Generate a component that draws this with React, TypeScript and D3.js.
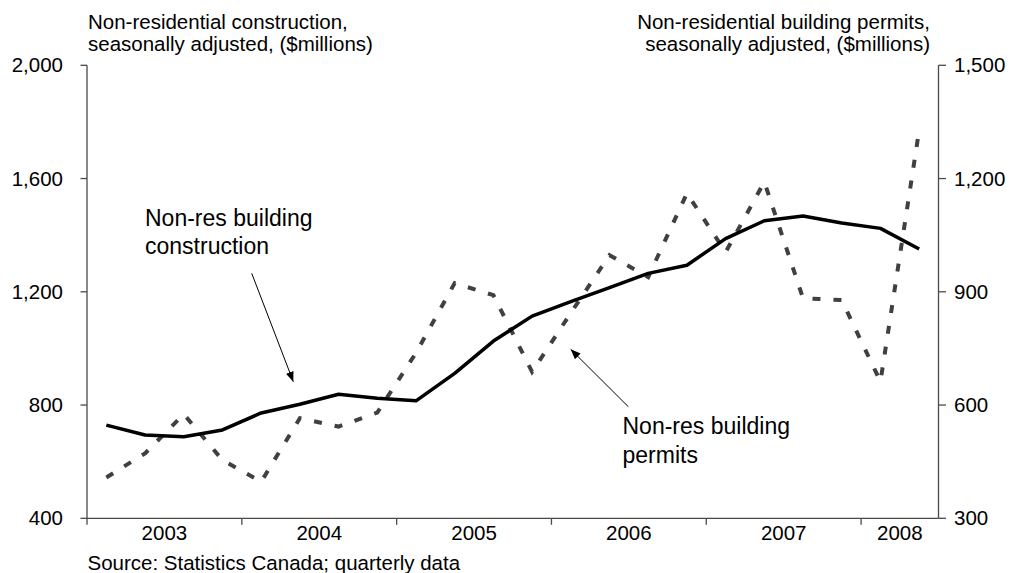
import React from "react";
import * as d3 from "d3";

const quarters = [
  "2003Q1","2003Q2","2003Q3","2003Q4",
  "2004Q1","2004Q2","2004Q3","2004Q4",
  "2005Q1","2005Q2","2005Q3","2005Q4",
  "2006Q1","2006Q2","2006Q3","2006Q4",
  "2007Q1","2007Q2","2007Q3","2007Q4",
  "2008Q1","2008Q2",
];
const years = ["2003", "2004", "2005", "2006", "2007", "2008"];

// Non-residential building construction (left axis, $ millions)
const construction = [
  729, 694, 688, 712,
  772, 803, 838, 824,
  815, 912, 1026, 1114,
  1165, 1215, 1265, 1294,
  1388, 1451, 1468, 1443,
  1424, 1351,
];
// Non-residential building permits (right axis, $ millions)
const permits = [
  408, 472, 576, 454,
  397, 565, 543, 580,
  738, 923, 891, 688,
  844, 997, 939, 1161,
  1005, 1191, 883, 878,
  662, 1328,
];
const leftTicks = [400, 800, 1200, 1600, 2000];
const rightTicks = [300, 600, 900, 1200, 1500];

const FONT = "'Liberation Sans', Arial, Helvetica, sans-serif";
const AXIS = "#4a4a4a";
const FS = 20.5;

export default function App() {
  const x = d3.scaleBand<string>().domain(quarters).range([87, 938.5]).padding(0);
  const yL = d3.scaleLinear().domain([400, 2000]).range([518.3, 65.3]);
  const yR = d3.scaleLinear().domain([300, 1500]).range([518.3, 65.3]);
  const cx = (q: string) => (x(q) as number) + x.bandwidth() / 2;

  const lineL = d3.line<number>().x((_, i) => cx(quarters[i])).y((d) => yL(d));
  const lineR = d3.line<number>().x((_, i) => cx(quarters[i])).y((d) => yR(d));

  const yearStarts = years.map((yr) => quarters.findIndex((q) => q.startsWith(yr)));
  const yearEnds = years.map((yr) => {
    let last = -1;
    quarters.forEach((q, i) => { if (q.startsWith(yr)) last = i; });
    return last;
  });
  const bottom = yL(400);
  const [x0, x1] = x.range();

  return (
    <svg width={1017} height={573} style={{ position: "absolute", left: 0, top: 0, background: "#fff" }} fontFamily={FONT}>
      <defs>
        <marker id="arr" viewBox="0 0 10 10" refX="10" refY="5" markerWidth="10" markerHeight="10" markerUnits="userSpaceOnUse" orient="auto">
          <path d="M0,1 L10,5 L0,9 Z" fill="#000" />
        </marker>
      </defs>

      {/* titles */}
      <text x={88} y={29} fontSize={FS} fill="#000">Non-residential construction,</text>
      <text x={88} y={51} fontSize={FS} fill="#000">seasonally adjusted, ($millions)</text>
      <text x={930} y={29} fontSize={FS} fill="#000" textAnchor="end">Non-residential building permits,</text>
      <text x={930} y={51} fontSize={FS} fill="#000" textAnchor="end">seasonally adjusted, ($millions)</text>

      {/* axes */}
      <line x1={x0} x2={x0} y1={yL(2000)} y2={bottom} stroke={AXIS} strokeWidth={1.3} />
      <line x1={x1} x2={x1} y1={yR(1500)} y2={bottom} stroke={AXIS} strokeWidth={1.3} />
      <line x1={x0} x2={x1} y1={bottom} y2={bottom} stroke={AXIS} strokeWidth={1.3} />

      {leftTicks.map((t) => (
        <g key={"l" + t}>
          <line x1={x0 - 6.5} x2={x0} y1={yL(t)} y2={yL(t)} stroke={AXIS} strokeWidth={1.3} />
          <text x={63} y={yL(t)} dy="0.35em" fontSize={FS} textAnchor="end" fill="#000">
            {d3.format(",")(t)}
          </text>
        </g>
      ))}
      {rightTicks.map((t) => (
        <g key={"r" + t}>
          <line x1={x1} x2={x1 + 7.5} y1={yR(t)} y2={yR(t)} stroke={AXIS} strokeWidth={1.3} />
          <text x={954} y={yR(t)} dy="0.35em" fontSize={FS} textAnchor="start" fill="#000">
            {d3.format(",")(t)}
          </text>
        </g>
      ))}

      {yearStarts.map((si, k) => {
        const sx = x(quarters[si]) as number;
        const ex = (x(quarters[yearEnds[k]]) as number) + x.bandwidth();
        return (
          <g key={years[k]}>
            <line x1={sx} x2={sx} y1={bottom} y2={bottom + 6.5} stroke={AXIS} strokeWidth={1.3} />
            <text x={(sx + ex) / 2} y={540} fontSize={FS} textAnchor="middle" fill="#000">{years[k]}</text>
          </g>
        );
      })}

      {/* series */}
      <path d={lineR(permits) as string} fill="none" stroke="#404040" strokeWidth={4} strokeDasharray="8 13" />
      <path d={lineL(construction) as string} fill="none" stroke="#000" strokeWidth={3.5} strokeLinejoin="round" />

      {/* annotations */}
      <text x={145} y={226} fontSize={23} fill="#000">Non-res building</text>
      <text x={145} y={254} fontSize={23} fill="#000">construction</text>
      <line x1={251.7} y1={273.3} x2={293.3} y2={381.7} stroke="#000" strokeWidth={1} markerEnd="url(#arr)" />

      <text x={622.5} y={434} fontSize={23} fill="#000">Non-res building</text>
      <text x={622.5} y={463} fontSize={23} fill="#000">permits</text>
      <line x1={628.3} y1={406.7} x2={570.7} y2={349.3} stroke="#000" strokeWidth={1} markerEnd="url(#arr)" />

      <text x={87.5} y={570} fontSize={FS} fill="#000">Source: Statistics Canada; quarterly data</text>
    </svg>
  );
}
